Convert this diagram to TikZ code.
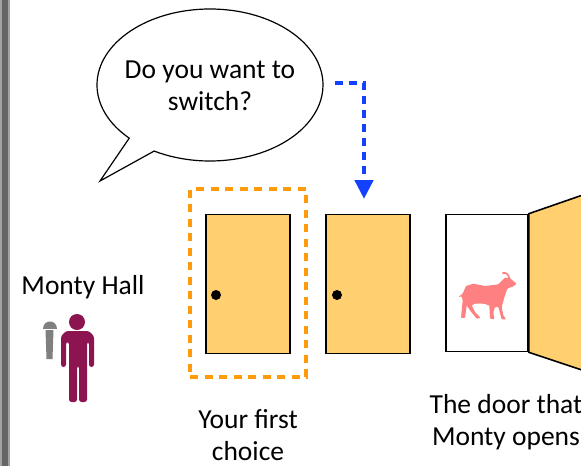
\documentclass[tikz,border=0pt]{standalone}
\usepackage{fontspec}
\setmainfont{Carlito}
\usetikzlibrary{shapes.callouts,arrows.meta}
\definecolor{doorfill}{HTML}{FFCF70}
\definecolor{pickorange}{HTML}{FF9A0A}
\definecolor{switchblue}{HTML}{1440FF}
\definecolor{montyred}{HTML}{8C1450}
\definecolor{goatred}{HTML}{FF8080}
\definecolor{barcolor}{HTML}{666666}
\begin{document}
\begin{tikzpicture}[
  x=1pt, y=-1pt,
  door/.style={rectangle, draw, line width=1.6pt, fill=doorfill, minimum width=84pt, minimum height=139pt, inner sep=0pt},
  knob/.style={circle, fill=black, minimum size=10pt, inner sep=0pt},
  label/.style={font=\fontsize{27.5}{32}\selectfont, align=center},
  pick/.style={draw=pickorange, line width=4pt, dash pattern=on 8pt off 6.5pt},
  switcharrow/.style={draw=switchblue, line width=4.5pt, dash pattern=on 8pt off 6pt},
]
\clip (0,0) rectangle (581,466);
\fill[white] (0,0) rectangle (581,466);
\fill[barcolor!60] (0,0) rectangle (10,466);
\fill[barcolor] (2,0) rectangle (8,466);

% === Speech bubble ===
\node[ellipse callout, draw, line width=1.2pt, fill=white, minimum width=226pt, minimum height=152pt, inner sep=0pt,
  callout absolute pointer={(100,181)}, callout pointer arc=16] (bubble) at (210,85) {};
\node[label] (bubbletext) at (210,86) {Do you want to\\switch?};

% === Doors ===
\node[door] (doorA) at (248,284) {};
\node[knob] (knobA) at (216,295) {};
\node[door] (doorB) at (368,284) {};
\node[knob] (knobB) at (337,295) {};
\node[door, fill=white, minimum width=82pt, minimum height=137pt] (doorC) at (487,283) {};
\draw[line width=1.6pt, fill=doorfill] (doorC.north east) -- (600,189) -- (600,376) -- (doorC.south east) -- cycle;

% === First choice ===
\node[pick, rectangle, minimum width=116pt, minimum height=188pt, inner sep=0pt] (choice) at (248,283) {};

% === Switch arrow ===
\coordinate (switchfrom) at (335,83);
\coordinate (switchto) at (364,199);
\draw[switcharrow] (switchfrom) -| (364,180);
\draw[switchblue, line width=4.5pt, -{Triangle[length=19pt,width=18pt]}] (364,180) -- (switchto);

% === Labels ===
\node[label] (montylabel) at (83,287) {Monty Hall};
\node[label] (choicelabel) at (248,435) {Your first\\choice};
\node[label] (openlabel) at (506,422) {The door that\\Monty opens};

% === Monty ===
\fill[montyred] (77,322) circle (8);
\fill[montyred, rounded corners=2.5pt]
  (66,331) -- (89,331) -- (94,336) -- (94,367) -- (89,367) -- (89,342) -- (87,342) -- (87,402)
  -- (79,402) -- (79,366) -- (77,366) -- (77,402) -- (69,402) -- (69,342) -- (66,342) -- (66,367) -- (61,367) -- (61,336) -- cycle;
\fill[gray] (45.5,330) -- (53.5,330) -- (52.5,359) -- (46.5,359) -- cycle;
\fill[gray] (43,328.5) .. controls (43,319) and (57,319) .. (57,328.5) -- cycle;

% === Goat ===
\begin{scope}[shift={(450,262)}, x=0.3333pt, y=-0.3333pt]
\fill[goatred, rounded corners=0.8pt]
  (25,105) -- (38,95) -- (48,72) -- (70,65) -- (105,72) -- (145,67) -- (157,55) -- (165,47) -- (180,48)
  -- (187,55) -- (200,65) -- (190,73) -- (172,80) -- (165,100) -- (155,135) -- (160,160) -- (168,172)
  -- (155,172) -- (145,135) -- (135,135) -- (130,150) -- (133,172) -- (120,170) -- (118,130) -- (100,125) -- (75,125)
  -- (65,130) -- (75,150) -- (92,168) -- (80,170) -- (60,145) -- (50,130) -- (45,168) -- (33,168) -- (38,115) -- (35,103) -- cycle;
\draw[goatred, line width=1.6pt] (178,50) .. controls (176,36) and (168,31) .. (157,33);
\end{scope}
\end{tikzpicture}
\end{document}
